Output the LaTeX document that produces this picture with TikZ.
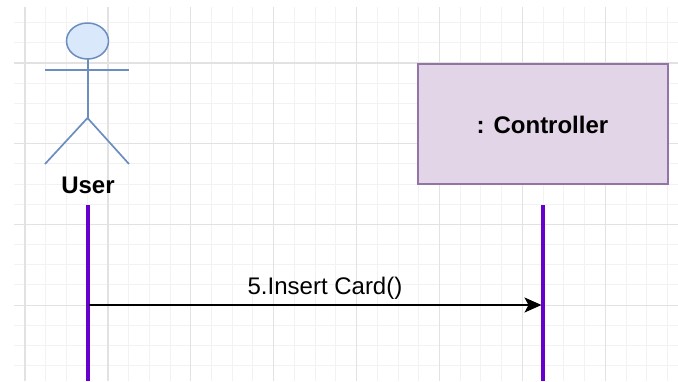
\documentclass[tikz,border=0pt]{standalone}
\usepackage{fontspec}
\setmainfont{Liberation Sans}
\usetikzlibrary{shapes.geometric,arrows.meta}
\definecolor{gridminor}{HTML}{F2F2F2}
\definecolor{gridmajor}{HTML}{E2E2E2}
\definecolor{actfill}{HTML}{DAE8FC}
\definecolor{actline}{HTML}{6C8EBF}
\definecolor{boxfill}{HTML}{E1D5E7}
\definecolor{boxline}{HTML}{9673A6}
\definecolor{lifeline}{HTML}{6600CC}
\tikzset{
  actorline/.style={draw=actline, line width=1.7pt},
  lifelinestyle/.style={draw=lifeline, line width=4pt},
  msg/.style={draw=black, line width=1.6pt, -{Stealth[length=17pt,width=15pt,inset=4pt]}},
  lbl/.style={font=\fontsize{24}{28}\selectfont, inner sep=0pt, anchor=base},
}
\begin{document}
\begin{tikzpicture}[x=1pt,y=-1pt]
\useasboundingbox (0,0) rectangle (678,381);
\fill[white] (0,0) rectangle (678,381);
% grid
\begin{scope}
\clip (14,7) rectangle (678,381);
\foreach \i in {0,...,31} \draw[gridminor, line width=1pt] ({25+20.725*\i},7) -- ({25+20.725*\i},381);
\foreach \j in {-2,...,15} \draw[gridminor, line width=1pt] (14,{63+20.175*\j}) -- (678,{63+20.175*\j});
\foreach \k in {0,...,7} \draw[gridmajor, line width=1.2pt] ({25+82.9*\k},7) -- ({25+82.9*\k},381);
\foreach \k in {0,...,3} \draw[gridmajor, line width=1.2pt] (14,{63+80.7*\k}) -- (678,{63+80.7*\k});
\end{scope}
% actor
\node[ellipse, draw=actline, fill=actfill, line width=1.5pt, minimum width=42, minimum height=36, inner sep=0pt] (head) at (87.5,41) {};
\coordinate (armL) at (45,70);
\coordinate (armR) at (129,70);
\coordinate (neck) at (87.5,59);
\coordinate (hip) at (87.5,118);
\coordinate (legL) at (45,164);
\coordinate (legR) at (129,164);
\draw[actorline] (armL) -- (armR);
\draw[actorline, line width=2pt] (neck) -- (hip);
\draw[actorline, line join=miter] (legL) -- (hip) -- (legR);
\node[lbl, font=\fontsize{24}{28}\selectfont\bfseries] (user) at (88,193) {User};
% controller
\node[draw=boxline, fill=boxfill, line width=1.5pt, minimum width=250, minimum height=120, inner sep=0pt] (ctrlbox) at (543,124) {};
\node[lbl, font=\fontsize{24}{28}\selectfont\bfseries] (ctrl) at (542.5,133) {: Controller};
% lifelines
\coordinate (uTop) at (87.5,205);
\coordinate (uBot) at (87.5,381);
\coordinate (cTop) at (543,205);
\coordinate (cBot) at (543,381);
\draw[lifelinestyle] (uTop) -- (uBot);
\draw[lifelinestyle] (cTop) -- (cBot);
% message
\coordinate (mFrom) at (89,305);
\coordinate (mTo) at (541.5,305);
\draw[msg] (mFrom) -- (mTo);
\node[lbl] (msglabel) at (325,294) {5.Insert Card()};
\end{tikzpicture}
\end{document}
